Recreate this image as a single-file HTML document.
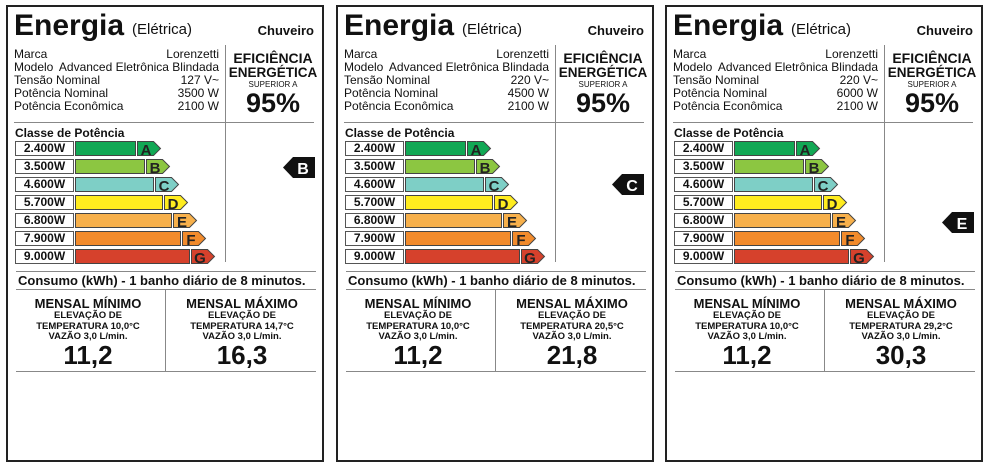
<!DOCTYPE html>
<html><head><meta charset="utf-8"><style>
*{margin:0;padding:0;box-sizing:border-box}
body{width:989px;height:468px;background:#fff;position:relative;overflow:hidden;font-family:"Liberation Sans",Arial,sans-serif;color:#111}
.p{position:absolute;top:5px;width:318px;height:457px;border:2px solid #222}
.p div,.p svg{position:absolute}
.a{line-height:1;white-space:nowrap}
.b{font-weight:bold}
.c{text-align:center}
.hl{height:1px;background:#888;left:8px;width:300px}
.vl{width:1px;background:#888}
.lab{left:9px;width:59px;height:15px;border:1px solid #555;background:#fff;font:bold 12px/13px "Liberation Sans",sans-serif;text-align:center}
</style></head><body>

<div class="p" style="left:6px">
<div class="a b" style="left:6px;top:4px;font-size:30px">Energia</div>
<div class="a" style="left:124px;top:15px;font-size:15px">(Elétrica)</div>
<div class="a b" style="right:8px;top:17px;font-size:13px">Chuveiro</div>
<div class="a" style="left:6px;top:41px;font-size:12px;line-height:13px;width:205px">
<div style="position:relative;display:flex;justify-content:space-between"><span>Marca</span><span>Lorenzetti</span></div>
<div style="position:relative;display:flex;justify-content:space-between"><span>Modelo</span><span>Advanced Eletrônica Blindada</span></div>
<div style="position:relative;display:flex;justify-content:space-between"><span>Tensão Nominal</span><span>127 V~</span></div>
<div style="position:relative;display:flex;justify-content:space-between"><span>Potência Nominal</span><span>3500 W</span></div>
<div style="position:relative;display:flex;justify-content:space-between"><span>Potência Econômica</span><span>2100 W</span></div>
</div>
<div class="vl" style="left:217px;top:38px;height:217px"></div>
<div class="hl" style="top:115px;left:6px"></div>
<div class="a b c" style="left:217px;width:96px;top:44px;font-size:14px">EFICIÊNCIA</div>
<div class="a b c" style="left:217px;width:96px;top:59px;font-size:13.5px">ENERGÉTICA</div>
<div class="a c" style="left:217px;width:96px;top:74px;font-size:8px">SUPERIOR A</div>
<div class="a b c" style="left:217px;width:96px;top:83px;font-size:27px">95%</div>
<div class="a b" style="left:7px;top:120px;font-size:12px">Classe de Potência</div>
<div class="lab" style="top:134px;left:7px">2.400W</div>
<div class="lab" style="top:152px;left:7px">3.500W</div>
<div class="lab" style="top:170px;left:7px">4.600W</div>
<div class="lab" style="top:188px;left:7px">5.700W</div>
<div class="lab" style="top:206px;left:7px">6.800W</div>
<div class="lab" style="top:224px;left:7px">7.900W</div>
<div class="lab" style="top:242px;left:7px">9.000W</div>
<svg style="left:0;top:0" width="316" height="270">
<g stroke="#444" stroke-width="1" font-family="Liberation Sans,sans-serif" font-weight="bold" font-size="15">
<rect x="67.5" y="134.5" width="60" height="14" fill="#12a855"/>
<polygon points="129.5,134.5 145.5,134.5 152.5,141.5 145.5,148.5 129.5,148.5" fill="#12a855"/>
<rect x="67.5" y="152.5" width="69" height="14" fill="#8cc641"/>
<polygon points="138.5,152.5 154.5,152.5 161.5,159.5 154.5,166.5 138.5,166.5" fill="#8cc641"/>
<rect x="67.5" y="170.5" width="78" height="14" fill="#7ecfc6"/>
<polygon points="147.5,170.5 163.5,170.5 170.5,177.5 163.5,184.5 147.5,184.5" fill="#7ecfc6"/>
<rect x="67.5" y="188.5" width="87" height="14" fill="#ffec1f"/>
<polygon points="156.5,188.5 172.5,188.5 179.5,195.5 172.5,202.5 156.5,202.5" fill="#ffec1f"/>
<rect x="67.5" y="206.5" width="96" height="14" fill="#f7b04b"/>
<polygon points="165.5,206.5 181.5,206.5 188.5,213.5 181.5,220.5 165.5,220.5" fill="#f7b04b"/>
<rect x="67.5" y="224.5" width="105" height="14" fill="#f28b2c"/>
<polygon points="174.5,224.5 190.5,224.5 197.5,231.5 190.5,238.5 174.5,238.5" fill="#f28b2c"/>
<rect x="67.5" y="242.5" width="114" height="14" fill="#d6412c"/>
<polygon points="183.5,242.5 199.5,242.5 206.5,249.5 199.5,256.5 183.5,256.5" fill="#d6412c"/>
<g stroke="none" fill="#222" text-anchor="middle">
<text x="138" y="148">A</text><text x="147" y="166">B</text><text x="156" y="184">C</text><text x="165" y="202">D</text><text x="174" y="220">E</text><text x="183" y="238">F</text><text x="192" y="256">G</text>
</g></g>
<polygon points="275,160.5 285,150 307,150 307,171 285,171" fill="#111"/>
<text x="295" y="167" fill="#fff" font-family="Liberation Sans,sans-serif" font-weight="bold" font-size="16" text-anchor="middle">B</text>
</svg>
<div class="hl" style="top:264px"></div>
<div class="a b" style="left:10px;top:267px;font-size:13px">Consumo (kWh) - 1 banho diário de 8 minutos.</div>
<div class="hl" style="top:282px"></div>
<div class="vl" style="left:157px;top:282px;height:82px"></div>
<div class="hl" style="top:364px"></div>
<div class="a b c" style="left:0;width:160px;top:290px;font-size:13px">MENSAL MÍNIMO</div>
<div class="a b c" style="left:0;width:160px;top:304px;font-size:9.5px;line-height:10.5px">ELEVAÇÃO DE<br>TEMPERATURA 10,0°C<br>VAZÃO 3,0 L/min.</div>
<div class="a b c" style="left:0;width:160px;top:335px;font-size:26px">11,2</div>
<div class="a b c" style="left:157px;width:154px;top:290px;font-size:13px">MENSAL MÁXIMO</div>
<div class="a b c" style="left:157px;width:154px;top:304px;font-size:9.5px;line-height:10.5px">ELEVAÇÃO DE<br>TEMPERATURA 14,7°C<br>VAZÃO 3,0 L/min.</div>
<div class="a b c" style="left:157px;width:154px;top:335px;font-size:26px">16,3</div>
</div>

<div class="p" style="left:336px">
<div class="a b" style="left:6px;top:4px;font-size:30px">Energia</div>
<div class="a" style="left:124px;top:15px;font-size:15px">(Elétrica)</div>
<div class="a b" style="right:8px;top:17px;font-size:13px">Chuveiro</div>
<div class="a" style="left:6px;top:41px;font-size:12px;line-height:13px;width:205px">
<div style="position:relative;display:flex;justify-content:space-between"><span>Marca</span><span>Lorenzetti</span></div>
<div style="position:relative;display:flex;justify-content:space-between"><span>Modelo</span><span>Advanced Eletrônica Blindada</span></div>
<div style="position:relative;display:flex;justify-content:space-between"><span>Tensão Nominal</span><span>220 V~</span></div>
<div style="position:relative;display:flex;justify-content:space-between"><span>Potência Nominal</span><span>4500 W</span></div>
<div style="position:relative;display:flex;justify-content:space-between"><span>Potência Econômica</span><span>2100 W</span></div>
</div>
<div class="vl" style="left:217px;top:38px;height:217px"></div>
<div class="hl" style="top:115px;left:6px"></div>
<div class="a b c" style="left:217px;width:96px;top:44px;font-size:14px">EFICIÊNCIA</div>
<div class="a b c" style="left:217px;width:96px;top:59px;font-size:13.5px">ENERGÉTICA</div>
<div class="a c" style="left:217px;width:96px;top:74px;font-size:8px">SUPERIOR A</div>
<div class="a b c" style="left:217px;width:96px;top:83px;font-size:27px">95%</div>
<div class="a b" style="left:7px;top:120px;font-size:12px">Classe de Potência</div>
<div class="lab" style="top:134px;left:7px">2.400W</div>
<div class="lab" style="top:152px;left:7px">3.500W</div>
<div class="lab" style="top:170px;left:7px">4.600W</div>
<div class="lab" style="top:188px;left:7px">5.700W</div>
<div class="lab" style="top:206px;left:7px">6.800W</div>
<div class="lab" style="top:224px;left:7px">7.900W</div>
<div class="lab" style="top:242px;left:7px">9.000W</div>
<svg style="left:0;top:0" width="316" height="270">
<g stroke="#444" stroke-width="1" font-family="Liberation Sans,sans-serif" font-weight="bold" font-size="15">
<rect x="67.5" y="134.5" width="60" height="14" fill="#12a855"/>
<polygon points="129.5,134.5 145.5,134.5 152.5,141.5 145.5,148.5 129.5,148.5" fill="#12a855"/>
<rect x="67.5" y="152.5" width="69" height="14" fill="#8cc641"/>
<polygon points="138.5,152.5 154.5,152.5 161.5,159.5 154.5,166.5 138.5,166.5" fill="#8cc641"/>
<rect x="67.5" y="170.5" width="78" height="14" fill="#7ecfc6"/>
<polygon points="147.5,170.5 163.5,170.5 170.5,177.5 163.5,184.5 147.5,184.5" fill="#7ecfc6"/>
<rect x="67.5" y="188.5" width="87" height="14" fill="#ffec1f"/>
<polygon points="156.5,188.5 172.5,188.5 179.5,195.5 172.5,202.5 156.5,202.5" fill="#ffec1f"/>
<rect x="67.5" y="206.5" width="96" height="14" fill="#f7b04b"/>
<polygon points="165.5,206.5 181.5,206.5 188.5,213.5 181.5,220.5 165.5,220.5" fill="#f7b04b"/>
<rect x="67.5" y="224.5" width="105" height="14" fill="#f28b2c"/>
<polygon points="174.5,224.5 190.5,224.5 197.5,231.5 190.5,238.5 174.5,238.5" fill="#f28b2c"/>
<rect x="67.5" y="242.5" width="114" height="14" fill="#d6412c"/>
<polygon points="183.5,242.5 199.5,242.5 206.5,249.5 199.5,256.5 183.5,256.5" fill="#d6412c"/>
<g stroke="none" fill="#222" text-anchor="middle">
<text x="138" y="148">A</text><text x="147" y="166">B</text><text x="156" y="184">C</text><text x="165" y="202">D</text><text x="174" y="220">E</text><text x="183" y="238">F</text><text x="192" y="256">G</text>
</g></g>
<polygon points="274,177.5 284,167 306,167 306,188 284,188" fill="#111"/>
<text x="294" y="184" fill="#fff" font-family="Liberation Sans,sans-serif" font-weight="bold" font-size="16" text-anchor="middle">C</text>
</svg>
<div class="hl" style="top:264px"></div>
<div class="a b" style="left:10px;top:267px;font-size:13px">Consumo (kWh) - 1 banho diário de 8 minutos.</div>
<div class="hl" style="top:282px"></div>
<div class="vl" style="left:157px;top:282px;height:82px"></div>
<div class="hl" style="top:364px"></div>
<div class="a b c" style="left:0;width:160px;top:290px;font-size:13px">MENSAL MÍNIMO</div>
<div class="a b c" style="left:0;width:160px;top:304px;font-size:9.5px;line-height:10.5px">ELEVAÇÃO DE<br>TEMPERATURA 10,0°C<br>VAZÃO 3,0 L/min.</div>
<div class="a b c" style="left:0;width:160px;top:335px;font-size:26px">11,2</div>
<div class="a b c" style="left:157px;width:154px;top:290px;font-size:13px">MENSAL MÁXIMO</div>
<div class="a b c" style="left:157px;width:154px;top:304px;font-size:9.5px;line-height:10.5px">ELEVAÇÃO DE<br>TEMPERATURA 20,5°C<br>VAZÃO 3,0 L/min.</div>
<div class="a b c" style="left:157px;width:154px;top:335px;font-size:26px">21,8</div>
</div>

<div class="p" style="left:665px">
<div class="a b" style="left:6px;top:4px;font-size:30px">Energia</div>
<div class="a" style="left:124px;top:15px;font-size:15px">(Elétrica)</div>
<div class="a b" style="right:8px;top:17px;font-size:13px">Chuveiro</div>
<div class="a" style="left:6px;top:41px;font-size:12px;line-height:13px;width:205px">
<div style="position:relative;display:flex;justify-content:space-between"><span>Marca</span><span>Lorenzetti</span></div>
<div style="position:relative;display:flex;justify-content:space-between"><span>Modelo</span><span>Advanced Eletrônica Blindada</span></div>
<div style="position:relative;display:flex;justify-content:space-between"><span>Tensão Nominal</span><span>220 V~</span></div>
<div style="position:relative;display:flex;justify-content:space-between"><span>Potência Nominal</span><span>6000 W</span></div>
<div style="position:relative;display:flex;justify-content:space-between"><span>Potência Econômica</span><span>2100 W</span></div>
</div>
<div class="vl" style="left:217px;top:38px;height:217px"></div>
<div class="hl" style="top:115px;left:6px"></div>
<div class="a b c" style="left:217px;width:96px;top:44px;font-size:14px">EFICIÊNCIA</div>
<div class="a b c" style="left:217px;width:96px;top:59px;font-size:13.5px">ENERGÉTICA</div>
<div class="a c" style="left:217px;width:96px;top:74px;font-size:8px">SUPERIOR A</div>
<div class="a b c" style="left:217px;width:96px;top:83px;font-size:27px">95%</div>
<div class="a b" style="left:7px;top:120px;font-size:12px">Classe de Potência</div>
<div class="lab" style="top:134px;left:7px">2.400W</div>
<div class="lab" style="top:152px;left:7px">3.500W</div>
<div class="lab" style="top:170px;left:7px">4.600W</div>
<div class="lab" style="top:188px;left:7px">5.700W</div>
<div class="lab" style="top:206px;left:7px">6.800W</div>
<div class="lab" style="top:224px;left:7px">7.900W</div>
<div class="lab" style="top:242px;left:7px">9.000W</div>
<svg style="left:0;top:0" width="316" height="270">
<g stroke="#444" stroke-width="1" font-family="Liberation Sans,sans-serif" font-weight="bold" font-size="15">
<rect x="67.5" y="134.5" width="60" height="14" fill="#12a855"/>
<polygon points="129.5,134.5 145.5,134.5 152.5,141.5 145.5,148.5 129.5,148.5" fill="#12a855"/>
<rect x="67.5" y="152.5" width="69" height="14" fill="#8cc641"/>
<polygon points="138.5,152.5 154.5,152.5 161.5,159.5 154.5,166.5 138.5,166.5" fill="#8cc641"/>
<rect x="67.5" y="170.5" width="78" height="14" fill="#7ecfc6"/>
<polygon points="147.5,170.5 163.5,170.5 170.5,177.5 163.5,184.5 147.5,184.5" fill="#7ecfc6"/>
<rect x="67.5" y="188.5" width="87" height="14" fill="#ffec1f"/>
<polygon points="156.5,188.5 172.5,188.5 179.5,195.5 172.5,202.5 156.5,202.5" fill="#ffec1f"/>
<rect x="67.5" y="206.5" width="96" height="14" fill="#f7b04b"/>
<polygon points="165.5,206.5 181.5,206.5 188.5,213.5 181.5,220.5 165.5,220.5" fill="#f7b04b"/>
<rect x="67.5" y="224.5" width="105" height="14" fill="#f28b2c"/>
<polygon points="174.5,224.5 190.5,224.5 197.5,231.5 190.5,238.5 174.5,238.5" fill="#f28b2c"/>
<rect x="67.5" y="242.5" width="114" height="14" fill="#d6412c"/>
<polygon points="183.5,242.5 199.5,242.5 206.5,249.5 199.5,256.5 183.5,256.5" fill="#d6412c"/>
<g stroke="none" fill="#222" text-anchor="middle">
<text x="138" y="148">A</text><text x="147" y="166">B</text><text x="156" y="184">C</text><text x="165" y="202">D</text><text x="174" y="220">E</text><text x="183" y="238">F</text><text x="192" y="256">G</text>
</g></g>
<polygon points="275,215.5 285,205 307,205 307,226 285,226" fill="#111"/>
<text x="295" y="222" fill="#fff" font-family="Liberation Sans,sans-serif" font-weight="bold" font-size="16" text-anchor="middle">E</text>
</svg>
<div class="hl" style="top:264px"></div>
<div class="a b" style="left:10px;top:267px;font-size:13px">Consumo (kWh) - 1 banho diário de 8 minutos.</div>
<div class="hl" style="top:282px"></div>
<div class="vl" style="left:157px;top:282px;height:82px"></div>
<div class="hl" style="top:364px"></div>
<div class="a b c" style="left:0;width:160px;top:290px;font-size:13px">MENSAL MÍNIMO</div>
<div class="a b c" style="left:0;width:160px;top:304px;font-size:9.5px;line-height:10.5px">ELEVAÇÃO DE<br>TEMPERATURA 10,0°C<br>VAZÃO 3,0 L/min.</div>
<div class="a b c" style="left:0;width:160px;top:335px;font-size:26px">11,2</div>
<div class="a b c" style="left:157px;width:154px;top:290px;font-size:13px">MENSAL MÁXIMO</div>
<div class="a b c" style="left:157px;width:154px;top:304px;font-size:9.5px;line-height:10.5px">ELEVAÇÃO DE<br>TEMPERATURA 29,2°C<br>VAZÃO 3,0 L/min.</div>
<div class="a b c" style="left:157px;width:154px;top:335px;font-size:26px">30,3</div>
</div>
</body></html>
